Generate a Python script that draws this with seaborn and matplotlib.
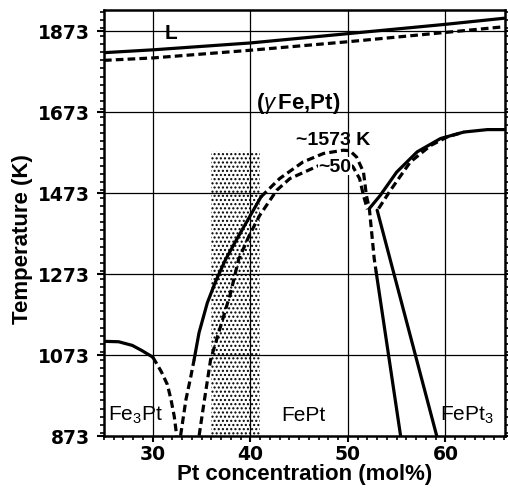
import numpy as np
import pandas as pd
import seaborn as sns
import matplotlib.pyplot as plt
from matplotlib.ticker import MultipleLocator

# =========================
# DATA
# =========================
x_ticks = [30, 40, 50, 60]
t_ticks = [873, 1073, 1273, 1473, 1673, 1873]

# liquidus (solid) and solidus (dashed)
liq_x = [25, 30, 40, 50, 60, 66]
liq_T = [1819, 1826, 1843, 1866, 1889, 1904]
sol_x = [25, 30, 40, 50, 60, 66]
sol_T = [1800, 1806, 1825, 1846, 1869, 1883]

# Fe3Pt ordering boundary
fe3_solid_x = [25, 26.5, 27.9, 28.9, 30]
fe3_solid_T = [1106, 1105, 1096, 1083, 1067]
fe3_dash_x = [30, 30.35, 30.9, 31.5, 31.87, 32.2, 32.45]
fe3_dash_T = [1067, 1053, 1030, 999, 962, 921, 873]

# FePt outer boundary (dashed - solid - dashed - solid)
fept_low_x = [32.85, 33.4, 33.9, 34.24]
fept_low_T = [873, 962, 1019, 1061]
fept_mid_x = [34.24, 34.74, 35.59, 36.44, 37.46, 38.7, 40.1, 41.1]
fept_mid_T = [1061, 1127, 1201, 1254, 1308, 1362, 1421, 1463]
fept_top_x = [41.1, 43.0, 45.4, 47.5, 49.5, 50.2, 50.9, 51.6, 51.9, 52.2, 52.7, 52.9]
fept_top_T = [1463, 1508, 1549, 1570, 1578, 1577, 1561, 1524, 1466, 1434, 1310, 1277]
fept_right_x = [52.9, 55.4]
fept_right_T = [1277, 873]

# FePt inner boundary (dashed)
inner_x = [34.75, 35.25, 35.93, 36.95, 37.97, 38.8, 39.9, 40.96, 42.7, 44.05,
           47.1, 48.5, 49.6, 50.5, 51.2, 51.6, 52.0]
inner_T = [873, 954, 1061, 1143, 1225, 1308, 1368, 1417, 1479, 1508,
           1541, 1549, 1550, 1538, 1508, 1466, 1432]

# FePt3 boundaries
fept3_solid_x = [52.2, 53.3, 55.0, 57.1, 59.5, 61.9, 64.3, 66]
fept3_solid_T = [1434, 1466, 1524, 1574, 1607, 1623, 1629, 1629]
fept3_dash_x = [53.15, 54.36, 56.4, 58.5, 60.2, 61.9]
fept3_dash_T = [1434, 1479, 1549, 1590, 1611, 1623]
fept3_left_x = [53.0, 59.1]
fept3_left_T = [1430, 873]

# shaded composition window
shade_x = [36, 41]
shade_top = 1575

# =========================
# STYLE
# =========================
sns.set_style("ticks", {"axes.edgecolor": "black", "text.color": "black",
                        "axes.labelcolor": "black", "xtick.color": "black",
                        "ytick.color": "black"})
plt.rcParams["font.family"] = ["Liberation Sans", "DejaVu Sans"]
plt.rcParams["mathtext.fontset"] = "custom"
plt.rcParams["mathtext.rm"] = "Liberation Sans"
plt.rcParams["mathtext.it"] = "Liberation Sans:italic"
plt.rcParams["mathtext.bf"] = "Liberation Sans:bold"
plt.rcParams["hatch.linewidth"] = 1.0

fig = plt.figure(figsize=(5.08, 4.89), dpi=100)
ax = fig.add_axes([0.2047, 0.107, 0.7893, 0.871])

ax.set_xlim(25, 66.1)
ax.set_ylim(873, 1925)

# grid
for xv in x_ticks:
    ax.axvline(xv, color="black", lw=0.9, zorder=1)
for tv in t_ticks[1:]:
    ax.axhline(tv, color="black", lw=0.9, zorder=1)

# stippled window
ax.fill_between(shade_x, 873, shade_top, facecolor="white", edgecolor="black",
                hatch="....", linewidth=0, zorder=0.5)

dash = (2.4, 1.3)


def draw(xs, ts, dashed=False):
    df = pd.DataFrame({"x": xs, "T": ts})
    line = sns.lineplot(data=df, x="x", y="T", sort=False, color="black",
                        lw=2.3, ax=ax, zorder=3, estimator=None)
    line.lines[-1].set_solid_joinstyle("round")
    if dashed:
        line.lines[-1].set_dashes(dash)


draw(liq_x, liq_T)
draw(sol_x, sol_T, dashed=True)
draw(fe3_solid_x, fe3_solid_T)
draw(fe3_dash_x, fe3_dash_T, dashed=True)
draw(fept_low_x, fept_low_T, dashed=True)
draw(fept_mid_x, fept_mid_T)
draw(fept_top_x, fept_top_T, dashed=True)
draw(fept_right_x, fept_right_T)
draw(inner_x, inner_T, dashed=True)
draw(fept3_solid_x, fept3_solid_T)
draw(fept3_dash_x, fept3_dash_T, dashed=True)
draw(fept3_left_x, fept3_left_T)

# labels
ax.text(31.85, 1868, "L", fontsize=15, fontweight="bold", ha="center", va="center")
ax.text(44.9, 1697, r"($\gamma\,$Fe,Pt)", fontsize=16, fontweight="bold",
        ha="center", va="center")
ax.text(48.5, 1605, "~1573 K", fontsize=14, fontweight="bold", ha="center", va="center")
ax.text(48.7, 1539, "~50", fontsize=14, fontweight="bold", ha="center", va="center",
        bbox=dict(facecolor="white", edgecolor="none", pad=0.5), zorder=4)
ax.text(25.4, 912, r"Fe$_\mathregular{3}$Pt", fontsize=15, ha="left", va="baseline")
ax.text(45.4, 912, "FePt", fontsize=15, ha="center", va="baseline")
ax.text(62.2, 912, r"FePt$_\mathregular{3}$", fontsize=15, ha="center", va="baseline")

# axes
ax.set_xticks(x_ticks)
ax.set_yticks(t_ticks)
ax.xaxis.set_minor_locator(MultipleLocator(1))
ax.yaxis.set_minor_locator(MultipleLocator(20))
ax.tick_params(which="major", direction="out", width=1.5, labelsize=13.5,
               right=True, top=False)
ax.tick_params(axis="y", which="major", length=5, pad=5)
ax.tick_params(axis="x", which="major", length=4, pad=2)
ax.tick_params(which="minor", direction="out", length=3, width=1.2,
               right=True, top=False)
for lab in ax.get_xticklabels() + ax.get_yticklabels():
    lab.set_fontweight("bold")
    lab.set_family("DejaVu Sans")

ax.set_xlabel("Pt concentration (mol%)", fontsize=16, fontweight="bold", labelpad=0)
ax.set_ylabel("Temperature (K)", fontsize=16, fontweight="bold")
ax.yaxis.set_label_coords(-0.178, 0.465)

for s in ax.spines.values():
    s.set_linewidth(1.8)
    s.set_visible(True)

fig.savefig("out.png", dpi=100)
